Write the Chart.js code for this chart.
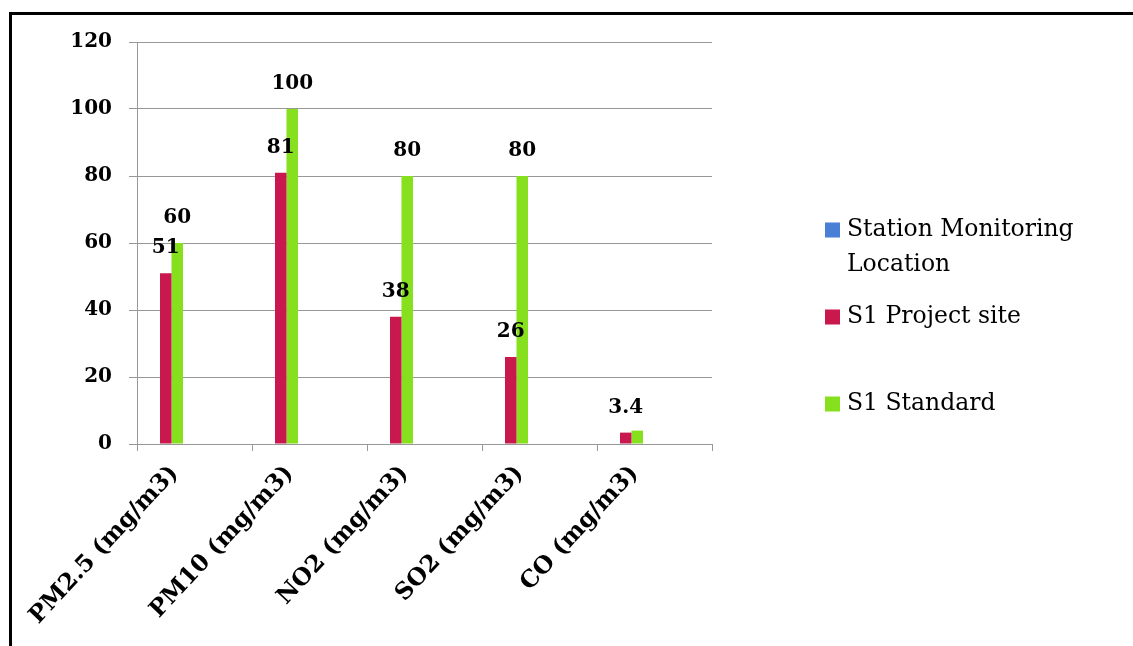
<!DOCTYPE html>
<html>
<head>
<meta charset="utf-8">
<script src="https://cdn.jsdelivr.net/npm/chart.js@4/dist/chart.umd.min.js"></script>
<style>
  html, body { margin:0; padding:0; background:#fff; }
  #wrap { position:relative; width:1133px; height:646px; overflow:hidden; }
  #frame { position:absolute; left:9px; top:12px; width:1200px; height:700px;
           border-left:3px solid #000; border-top:3px solid #000; box-sizing:border-box; pointer-events:none; }
  canvas { position:absolute; left:0; top:0; }
</style>
</head>
<body>
<div id="wrap">
  <canvas id="c" width="1133" height="646"></canvas>
  <div id="frame"></div>
</div>
<script>
// ---- data ----
const categories = ['PM2.5 (mg/m3)', 'PM10 (mg/m3)', 'NO2 (mg/m3)', 'SO2 (mg/m3)', 'CO (mg/m3)'];
const stationMonitoring = [null, null, null, null, null];
const projectSite = [51, 81, 38, 26, 3.4];
const standard = [60, 100, 80, 80, 4];
const seriesNames = ['Station Monitoring Location', 'S1 Project site', 'S1 Standard'];
const yTickValues = [0, 20, 40, 60, 80, 100, 120];

// ---- style ----
const colors = ['#4A7FD6', '#C8184E', '#86E01E'];
const serif = 'DejaVu Serif';
const EMPTY_SLOTS = 5; // unused series slots that Excel reserved in each group

const datasets = [
  { label: seriesNames[0], data: stationMonitoring, backgroundColor: colors[0] },
  { label: seriesNames[1], data: projectSite, backgroundColor: colors[1] },
  { label: seriesNames[2], data: standard, backgroundColor: colors[2] }
];
for (let i = 0; i < EMPTY_SLOTS; i++) datasets.push({ label: '', data: [], backgroundColor: 'rgba(0,0,0,0)', slot: true });

const valueLabels = {
  id: 'valueLabels',
  afterDatasetsDraw(chart) {
    const ctx = chart.ctx;
    ctx.save();
    ctx.font = 'bold 20px "' + serif + '"';
    ctx.fillStyle = '#000';
    ctx.textAlign = 'center';
    ctx.textBaseline = 'middle';
    const drawn = [];
    chart.data.datasets.forEach((ds, di) => {
      if (ds.slot) return;
      const meta = chart.getDatasetMeta(di);
      meta.data.forEach((bar, i) => {
        const v = ds.data[i];
        if (v === null || v === undefined) return;
        const txt = String(v);
        const w = ctx.measureText(txt).width;
        const x = bar.x, y = bar.y - 25;
        const box = { l: x - w / 2, r: x + w / 2, t: y - 10, b: y + 10 };
        if (drawn.some(d => d.l < box.r && box.l < d.r && d.t < box.b && box.t < d.b)) return;
        drawn.push(box);
        ctx.fillText(txt, x, y);
      });
    });
    ctx.restore();
  }
};

const sideLegend = {
  id: 'sideLegend',
  afterDraw(chart) {
    const ctx = chart.ctx;
    ctx.save();
    ctx.font = '23.5px "' + serif + '"';
    ctx.fillStyle = '#000';
    ctx.textBaseline = 'middle';
    const boxX = 825, textX = 847, startY = 230, pitch = 87, lineH = 35, maxW = 240, box = 15;
    chart.data.datasets.filter(d => !d.slot).forEach((ds, k) => {
      const y = startY + k * pitch;
      ctx.fillStyle = ds.backgroundColor;
      ctx.fillRect(boxX, y - box / 2, box, box);
      ctx.fillStyle = '#000';
      const words = ds.label.split(' ');
      const lines = [];
      let cur = '';
      words.forEach(wd => {
        const t = cur ? cur + ' ' + wd : wd;
        if (ctx.measureText(t).width > maxW && cur) { lines.push(cur); cur = wd; } else cur = t;
      });
      lines.push(cur);
      lines.forEach((ln, j) => ctx.fillText(ln, textX, y + j * lineH));
    });
    ctx.restore();
  }
};

new Chart(document.getElementById('c'), {
  type: 'bar',
  data: { labels: categories, datasets },
  options: {
    responsive: false,
    animation: false,
    events: [],
    layout: { padding: { left: 0, top: 42, right: 421, bottom: 0 } },
    datasets: { bar: { categoryPercentage: 0.8, barPercentage: 1.0 } },
    plugins: { legend: { display: false }, tooltip: { enabled: false } },
    scales: {
      y: {
        min: 0, max: 120,
        afterBuildTicks(scale) { scale.ticks = yTickValues.map(v => ({ value: v })); },
        afterFit(scale) { scale.width = 137; },
        ticks: { font: { family: serif, weight: 'bold', size: 20 }, color: '#000', padding: 17 },
        grid: { color: '#989898', lineWidth: 1, tickLength: 8 },
        border: { color: '#989898' }
      },
      x: {
        afterFit(scale) { scale.height = 202; },
        ticks: {
          font: { family: serif, weight: 'bold', size: 23.5 }, color: '#000',
          minRotation: 47, maxRotation: 47, autoSkip: false, labelOffset: -20, padding: 9
        },
        grid: { drawOnChartArea: false, drawTicks: true, tickLength: 7, color: '#989898', offset: true },
        border: { color: '#989898' }
      }
    }
  },
  plugins: [valueLabels, sideLegend]
});
</script>
</body>
</html>
